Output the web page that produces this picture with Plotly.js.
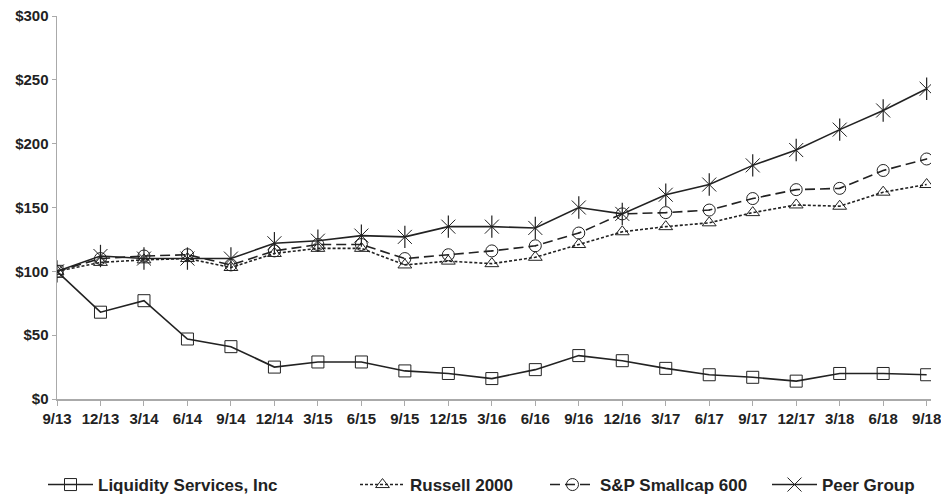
<!DOCTYPE html>
<html><head><meta charset="utf-8">
<script src="https://cdn.plot.ly/plotly-3.0.1.min.js"></script>
<style>html,body{margin:0;padding:0;background:#fff}#chart{width:941px;height:496px}</style>
</head><body><div id="chart"></div>
<script>
const periods = ["9/13","12/13","3/14","6/14","9/14","12/14","3/15","6/15","9/15","12/15","3/16","6/16","9/16","12/16","3/17","6/17","9/17","12/17","3/18","6/18","9/18"];
const liquidity = [100,68,77,47,41,25,29,29,22,20,16,23,34,30,24,19,17,14,20,20,19];
const russell = [100,107,109,110,103,114,118,118,105,108,106,111,121,131,135,138,146,152,151,162,168];
const sp600 = [100,110,112,113,105,116,121,121,110,113,116,120,130,145,146,148,157,164,165,179,188];
const peer = [100,112,110,110,110,122,124,128,127,135,135,134,150,145,160,168,183,195,211,226,243];
const yTicks = [0,50,100,150,200,250,300];
const yTickText = ["$0","$50","$100","$150","$200","$250","$300"];

const ink = '#222';
const x = periods.map((_, i) => i);
function tr(name, y, sym, dash, msize, leg) {
  return {x: x, y: y, name: name, type: 'scatter', mode: 'lines+markers', legend: leg,
    line: {color: ink, width: 1.6, dash: dash},
    marker: {symbol: sym, size: msize, color: ink, line: {color: ink, width: 1}}};
}
const data = [
  tr('Liquidity Services, Inc', liquidity, 'square-open', 'solid', 12, 'legend'),
  tr('Russell 2000', russell, 'triangle-up-open', '3px,2px', 12, 'legend2'),
  tr('S&P Smallcap 600', sp600, 'circle-open-dot', '10px,5px', 12, 'legend3'),
  tr('Peer Group', peer, 'x-thin-open', 'solid', 14, 'legend4'),
  {x: x, y: peer, type: 'scatter', mode: 'markers', showlegend: false, hoverinfo: 'skip',
   marker: {symbol: 'line-ns-open', size: 16, color: ink, line: {color: ink, width: 1.2}}}
];
const legFont = {family: 'Liberation Sans, Arial, sans-serif', size: 17, color: ink, weight: 'bold'};
function leg(px) {
  return {orientation: 'h', xref: 'container', yref: 'container', x: px / 941, xanchor: 'left',
    y: 11 / 496, yanchor: 'middle', font: legFont, itemwidth: 45, bgcolor: 'rgba(0,0,0,0)'};
}
const layout = {
  width: 941, height: 496,
  margin: {l: 57, r: 10, t: 16, b: 97, autoexpand: false},
  paper_bgcolor: '#fff', plot_bgcolor: '#fff',
  font: {family: 'Liberation Sans, Arial, sans-serif', color: ink},
  showlegend: true,
  legend: leg(43), legend2: leg(355), legend3: leg(545), legend4: leg(767),
  xaxis: {range: [0, 20.1], tickmode: 'array', tickvals: x, ticktext: periods,
    showgrid: false, zeroline: false, showline: true, linecolor: '#aaa', linewidth: 1.5,
    ticks: 'outside', ticklen: 5, tickcolor: '#aaa', automargin: false, ticklabeloverflow: 'allow',
    tickfont: {size: 15, color: ink, weight: 'bold'}},
  yaxis: {range: [0, 300], tickmode: 'array', tickvals: yTicks, ticktext: yTickText,
    showgrid: false, zeroline: false, showline: true, linecolor: '#aaa', linewidth: 1.5,
    ticks: 'outside', ticklen: 4, tickcolor: '#aaa', automargin: false, ticklabeloverflow: 'allow',
    tickfont: {size: 15, color: ink, weight: 'bold'}}
};
Plotly.newPlot('chart', data, layout, {displayModeBar: false, staticPlot: true});
</script></body></html>
